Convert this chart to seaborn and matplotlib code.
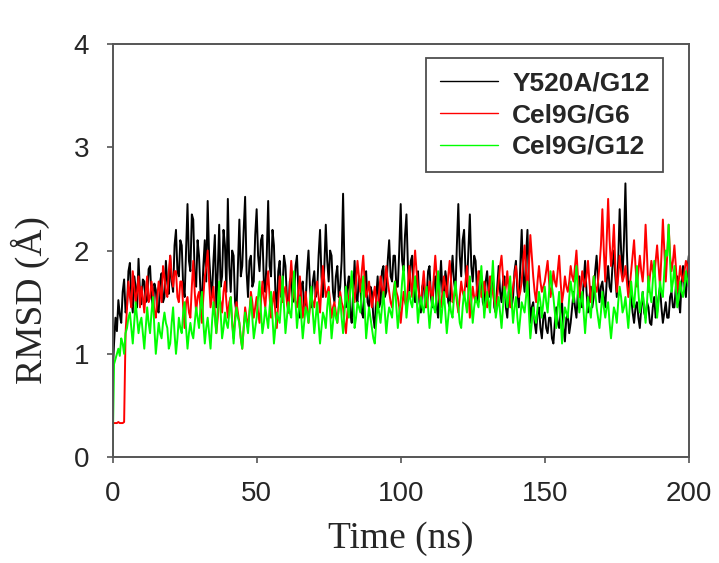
import numpy as np
import pandas as pd
import matplotlib
matplotlib.use("Agg")
import matplotlib.pyplot as plt
import seaborn as sns

# RMSD traces (Angstrom), one value every 0.5 ns from 0 to 200 ns
step_ns = 0.5

y520a_g12 = [
    0.78, 1.10, 1.35, 1.22, 1.52, 1.38, 1.30, 1.60, 1.72, 1.40,
    1.45, 1.80, 1.88, 1.55, 1.40, 1.75, 1.65, 1.45, 1.92, 1.60,
    1.48, 1.72, 1.70, 1.50, 1.52, 1.82, 1.85, 1.55, 1.45, 1.68,
    1.62, 1.42, 1.40, 1.70, 1.78, 1.50, 1.55, 1.90, 1.68, 1.58,
    1.95, 1.70, 1.60, 2.05, 2.20, 1.80, 1.75, 2.10, 2.05, 1.65,
    1.55, 2.00, 2.45, 1.90, 1.80, 2.35, 2.30, 1.75, 1.65, 2.10,
    1.95, 1.60, 1.50, 1.85, 2.10, 1.70, 2.48, 1.95, 1.70, 1.55,
    1.90, 2.15, 1.45, 1.80, 2.25, 1.65, 1.75, 2.20, 2.05, 1.60,
    2.50, 1.85, 1.60, 2.00, 1.95, 1.50, 1.40, 1.85, 2.30, 1.75,
    1.85, 2.20, 2.52, 1.80, 1.55, 1.90, 1.95, 1.65, 1.70, 2.15,
    2.40, 1.95, 1.80, 2.10, 2.15, 1.70, 1.60, 1.95, 2.48, 1.85,
    1.75, 2.20, 2.05, 1.60, 1.45, 1.80, 1.90, 1.55, 1.65, 1.95,
    1.85, 1.55, 1.40, 1.70, 1.75, 1.50, 1.55, 1.85, 1.95, 1.60,
    1.35, 1.65, 1.70, 1.45, 1.50, 1.80, 2.00, 1.65, 1.45, 1.70,
    1.80, 1.55, 1.60, 1.95, 2.20, 1.75, 1.55, 1.85, 2.25, 1.90,
    1.70, 2.00, 1.95, 1.60, 1.50, 1.75, 1.85, 1.55, 1.65, 1.90,
    2.55, 1.80, 1.45, 1.65, 1.75, 1.40, 1.30, 1.60, 1.90, 1.55,
    1.50, 1.75, 1.65, 1.40, 1.35, 1.70, 1.80, 1.50, 1.45, 1.65,
    1.60, 1.35, 1.25, 1.55, 1.75, 1.45, 1.50, 1.80, 1.85, 1.55,
    1.60, 1.90, 2.10, 1.75, 1.70, 1.95, 1.95, 1.65, 1.65, 2.00,
    2.45, 1.90, 1.80, 2.15, 2.35, 1.85, 1.60, 1.90, 1.95, 1.60,
    1.50, 1.75, 1.80, 1.50, 1.40, 1.65, 1.70, 1.45, 1.55, 1.80,
    1.85, 1.55, 1.45, 1.70, 1.75, 1.45, 1.35, 1.65, 1.90, 1.60,
    1.55, 1.80, 1.70, 1.50, 1.45, 1.75, 1.95, 1.70, 1.60, 2.05,
    2.45, 1.95, 1.75, 2.10, 2.20, 1.80, 1.65, 2.00, 2.35, 1.85,
    1.70, 1.95, 1.90, 1.60, 1.50, 1.80, 1.75, 1.50, 1.45, 1.70,
    1.80, 1.60, 1.55, 1.75, 1.70, 1.45, 1.40, 1.65, 1.85, 1.60,
    1.50, 1.70, 1.75, 1.45, 1.35, 1.60, 1.65, 1.45, 1.55, 1.80,
    1.90, 1.60, 1.45, 1.85, 2.20, 1.75, 1.60, 1.95, 2.20, 1.65,
    1.30, 1.45, 1.50, 1.30, 1.20, 1.40, 1.45, 1.25, 1.15, 1.35,
    1.40, 1.25, 1.20, 1.35, 1.35, 1.15, 1.10, 1.30, 1.45, 1.30,
    1.25, 1.40, 1.50, 1.25, 1.12, 1.35, 1.38, 1.20, 1.30, 1.45,
    1.60, 1.45, 1.35, 1.60, 1.75, 1.50, 1.45, 1.70, 1.90, 1.60,
    1.40, 1.55, 1.65, 1.45, 1.55, 1.80, 1.95, 1.70, 1.50, 1.65,
    1.70, 1.55, 1.45, 1.70, 1.85, 1.65, 1.60, 1.85, 2.00, 1.75,
    1.55, 1.90, 2.40, 2.00, 1.75, 2.10, 2.65, 2.00, 1.60, 1.70,
    1.55, 1.40, 1.30, 1.45, 1.50, 1.35, 1.25, 1.45, 1.60, 1.40,
    1.35, 1.50, 1.45, 1.30, 1.28, 1.45, 1.55, 1.35, 1.40, 1.55,
    1.65, 1.45, 1.30, 1.40, 1.50, 1.35, 1.35, 1.55, 1.60, 1.45,
    1.45, 1.65, 1.75, 1.50, 1.40, 1.70, 1.85, 1.65, 1.55, 1.80,
    1.95,
]

cel9g_g6 = [
    0.33, 0.33, 0.33, 0.33, 0.34, 0.33, 0.33, 0.33, 0.34, 1.20,
    1.45, 1.70, 1.55, 1.45, 1.80, 1.65, 1.50, 1.60, 1.75, 1.45,
    1.65, 1.55, 1.40, 1.60, 1.75, 1.50, 1.55, 1.70, 1.60, 1.40,
    1.35, 1.55, 1.70, 1.60, 1.50, 1.85, 1.75, 1.60, 1.55, 1.80,
    1.95, 1.75, 1.65, 1.80, 1.80, 1.55, 1.50, 1.70, 1.70, 1.45,
    1.25, 1.50, 1.55, 1.40, 1.35, 1.65, 1.90, 1.60, 1.40, 1.55,
    1.60, 1.45, 1.30, 1.55, 1.75, 1.85, 2.00, 1.70, 1.45, 1.55,
    1.65, 1.40, 1.20, 1.35, 1.55, 1.50, 1.40, 1.60, 1.70, 1.50,
    1.35, 1.50, 1.55, 1.30, 1.15, 1.35, 1.50, 1.40, 1.30, 1.15,
    1.05, 1.25, 1.45, 1.35, 1.25, 1.40, 1.60, 1.50, 1.35, 1.45,
    1.55, 1.40, 1.30, 1.50, 1.70, 1.55, 1.45, 1.65, 1.80, 1.55,
    1.35, 1.50, 1.60, 1.40, 1.25, 1.50, 1.75, 1.60, 1.50, 1.60,
    1.65, 1.50, 1.40, 1.65, 1.90, 1.70, 1.55, 1.50, 1.45, 1.60,
    1.75, 1.55, 1.35, 1.45, 1.60, 1.45, 1.30, 1.45, 1.55, 1.50,
    1.45, 1.60, 1.70, 1.55, 1.40, 1.65, 1.85, 1.70, 1.55, 1.60,
    1.65, 1.50, 1.35, 1.45, 1.50, 1.40, 1.30, 1.45, 1.60, 1.50,
    1.45, 1.30, 1.20, 1.40, 1.55, 1.65, 1.75, 1.60, 1.50, 1.70,
    1.90, 1.75, 1.60, 1.80, 1.95, 1.70, 1.55, 1.60, 1.70, 1.55,
    1.45, 1.55, 1.65, 1.50, 1.40, 1.60, 1.75, 1.65, 1.55, 1.70,
    1.85, 1.70, 1.60, 1.50, 1.45, 1.60, 1.70, 1.60, 1.55, 1.45,
    1.30, 1.45, 1.60, 1.50, 1.45, 1.65, 1.85, 1.70, 1.55, 1.80,
    2.00, 1.80, 1.65, 1.55, 1.50, 1.65, 1.80, 1.60, 1.45, 1.55,
    1.70, 1.60, 1.50, 1.75, 1.95, 1.75, 1.60, 1.50, 1.45, 1.60,
    1.75, 1.65, 1.55, 1.75, 1.90, 1.70, 1.50, 1.55, 1.65, 1.50,
    1.40, 1.55, 1.70, 1.60, 1.55, 1.70, 1.85, 1.60, 1.35, 1.50,
    1.65, 1.55, 1.50, 1.65, 1.80, 1.70, 1.55, 1.60, 1.70, 1.60,
    1.45, 1.60, 1.75, 1.65, 1.60, 1.50, 1.40, 1.55, 1.70, 1.85,
    1.95, 1.75, 1.55, 1.65, 1.80, 1.60, 1.45, 1.55, 1.65, 1.75,
    1.85, 1.70, 1.55, 1.60, 1.70, 1.90, 2.05, 1.80, 1.60, 1.85,
    2.15, 1.95, 1.75, 1.60, 1.50, 1.70, 1.85, 1.70, 1.60, 1.65,
    1.70, 1.80, 1.90, 1.70, 1.55, 1.65, 1.80, 1.70, 1.65, 1.80,
    1.95, 1.70, 1.50, 1.60, 1.75, 1.65, 1.60, 1.70, 1.85, 1.75,
    1.70, 1.85, 2.00, 1.75, 1.55, 1.65, 1.80, 1.70, 1.65, 1.75,
    1.90, 1.70, 1.50, 1.60, 1.75, 1.65, 1.60, 1.70, 1.85, 2.05,
    2.40, 2.00, 1.70, 2.10, 2.50, 2.10, 1.85, 2.00, 2.25, 1.85,
    1.60, 1.75, 1.95, 1.80, 1.70, 1.75, 1.85, 1.70, 1.55, 1.65,
    1.80, 1.95, 2.10, 1.85, 1.65, 1.80, 1.95, 1.80, 1.70, 1.90,
    2.25, 1.95, 1.60, 1.75, 1.90, 1.80, 1.75, 1.90, 2.05, 1.85,
    1.65, 1.95, 2.30, 2.00, 1.70, 1.95, 2.25, 1.95, 1.80, 1.90,
    2.05, 1.85, 1.60, 1.70, 1.85, 1.75, 1.70, 1.80, 1.90, 1.85,
    1.75,
]

cel9g_g12 = [
    0.00, 0.90, 0.95, 1.00, 1.05, 0.98, 1.15, 1.10, 1.00, 1.20,
    1.25, 1.35, 1.40, 1.25, 1.10, 1.30, 1.50, 1.35, 1.20, 1.30,
    1.35, 1.20, 1.05, 1.25, 1.45, 1.30, 1.20, 1.40, 1.55, 1.25,
    1.00, 1.15, 1.30, 1.20, 1.15, 1.30, 1.40, 1.30, 1.25, 1.05,
    1.10, 1.30, 1.45, 1.20, 1.00, 1.15, 1.35, 1.25, 1.20, 1.40,
    1.50, 1.25, 1.05, 1.20, 1.30, 1.20, 1.15, 1.30, 1.45, 1.35,
    1.25, 1.45, 1.60, 1.30, 1.10, 1.25, 1.35, 1.20, 1.05, 1.30,
    1.50, 1.35, 1.20, 1.45, 1.70, 1.40, 1.15, 1.25, 1.40, 1.30,
    1.25, 1.40, 1.55, 1.30, 1.10, 1.30, 1.45, 1.35, 1.30, 1.15,
    1.05, 1.25, 1.40, 1.30, 1.20, 1.40, 1.55, 1.35, 1.15, 1.25,
    1.35, 1.55, 1.70, 1.40, 1.20, 1.30, 1.45, 1.35, 1.25, 1.45,
    1.60, 1.35, 1.10, 1.25, 1.40, 1.35, 1.30, 1.50, 1.75, 1.45,
    1.20, 1.35, 1.50, 1.40, 1.35, 1.60, 1.80, 1.50, 1.25, 1.40,
    1.55, 1.35, 1.15, 1.30, 1.45, 1.40, 1.30, 1.50, 1.65, 1.40,
    1.20, 1.35, 1.50, 1.30, 1.10, 1.25, 1.40, 1.35, 1.25, 1.45,
    1.60, 1.40, 1.15, 1.30, 1.45, 1.35, 1.30, 1.45, 1.55, 1.35,
    1.20, 1.40, 1.65, 1.50, 1.35, 1.60, 1.80, 1.55, 1.25, 1.35,
    1.50, 1.45, 1.40, 1.60, 1.75, 1.45, 1.15, 1.30, 1.45, 1.35,
    1.25, 1.15, 1.10, 1.30, 1.50, 1.40, 1.30, 1.45, 1.60, 1.40,
    1.20, 1.35, 1.45, 1.40, 1.35, 1.55, 1.70, 1.45, 1.25, 1.40,
    1.50, 1.70, 1.85, 1.60, 1.35, 1.50, 1.60, 1.50, 1.45, 1.60,
    1.75, 1.55, 1.30, 1.45, 1.55, 1.45, 1.40, 1.55, 1.65, 1.45,
    1.25, 1.40, 1.55, 1.45, 1.40, 1.60, 1.80, 1.55, 1.30, 1.45,
    1.60, 1.40, 1.20, 1.35, 1.50, 1.40, 1.35, 1.55, 1.70, 1.55,
    1.45, 1.30, 1.25, 1.45, 1.60, 1.50, 1.40, 1.60, 1.75, 1.50,
    1.30, 1.45, 1.55, 1.50, 1.45, 1.65, 1.85, 1.60, 1.35, 1.50,
    1.60, 1.50, 1.40, 1.65, 1.90, 1.60, 1.35, 1.45, 1.55, 1.40,
    1.25, 1.45, 1.65, 1.55, 1.45, 1.60, 1.75, 1.50, 1.30, 1.45,
    1.55, 1.35, 1.20, 1.35, 1.50, 1.45, 1.40, 1.55, 1.70, 1.40,
    1.15, 1.30, 1.45, 1.35, 1.30, 1.45, 1.60, 1.50, 1.35, 1.50,
    1.65, 1.50, 1.40, 1.60, 1.80, 1.65, 1.55, 1.40, 1.25, 1.45,
    1.60, 1.35, 1.10, 1.30, 1.45, 1.40, 1.35, 1.55, 1.70, 1.60,
    1.50, 1.70, 1.85, 1.60, 1.40, 1.50, 1.60, 1.40, 1.20, 1.40,
    1.55, 1.45, 1.35, 1.55, 1.75, 1.60, 1.45, 1.35, 1.25, 1.40,
    1.60, 1.45, 1.35, 1.45, 1.50, 1.30, 1.15, 1.30, 1.45, 1.40,
    1.30, 1.50, 1.65, 1.55, 1.40, 1.45, 1.55, 1.40, 1.25, 1.45,
    1.70, 1.55, 1.45, 1.65, 1.85, 1.60, 1.40, 1.50, 1.60, 1.45,
    1.30, 1.50, 1.75, 1.60, 1.50, 1.70, 1.90, 1.65, 1.35, 1.50,
    1.70, 1.60, 1.55, 1.80, 2.00, 1.95, 2.25, 1.90, 1.60, 1.70,
    1.85, 1.65, 1.45, 1.55, 1.70, 1.60, 1.55, 1.65, 1.80, 1.70,
    1.65,
]

systems = ["Y520A/G12", "Cel9G/G6", "Cel9G/G12"]
colors = ["#000000", "#ff0000", "#00ff00"]

df = pd.concat([
    pd.DataFrame({"time": np.arange(len(vals)) * step_ns, "rmsd": vals, "system": name})
    for name, vals in zip(systems, [y520a_g12, cel9g_g6, cel9g_g12])
])

sns.set_style("ticks")
plt.rcParams["font.family"] = ["Liberation Sans", "DejaVu Sans"]

fig = plt.figure(figsize=(7.19, 5.63), dpi=100)
ax = fig.add_axes([0.1566, 0.188, 0.8014, 0.734])

sns.lineplot(data=df, x="time", y="rmsd", hue="system", hue_order=systems,
             palette=colors, linewidth=1.4, ax=ax, legend=False)

ax.set_xlim(0, 200)
ax.set_ylim(0, 4)
ax.set_xticks([0, 50, 100, 150, 200])
ax.set_yticks([0, 1, 2, 3, 4])
ax.tick_params(axis="both", direction="out", length=4, width=1.2,
               color="#555555", labelsize=20, pad=13)

for s in ax.spines.values():
    s.set_color("#555555")
    s.set_linewidth(1.4)

serif = ["Liberation Serif", "DejaVu Serif"]
ax.set_xlabel("Time (ns)", fontsize=27, family=serif)
ax.set_ylabel("RMSD (Å)", fontsize=27, family=serif)
ax.xaxis.set_label_coords(0.5, -0.155)
ax.yaxis.set_label_coords(-0.108, 0.38)

handles = [plt.Line2D([], [], color=c, linewidth=1.0) for c in colors]
leg = ax.legend(handles, systems, loc="upper right", bbox_to_anchor=(0.955, 0.966),
                borderaxespad=0, frameon=True, fancybox=False,
                prop={"weight": "bold", "size": 19},
                handlelength=2.2, handletextpad=0.55, labelspacing=0.3,
                borderpad=0.5)
leg.get_frame().set_edgecolor("#222222")
leg.get_frame().set_linewidth(1.3)

fig.savefig("out.png", dpi=100)
